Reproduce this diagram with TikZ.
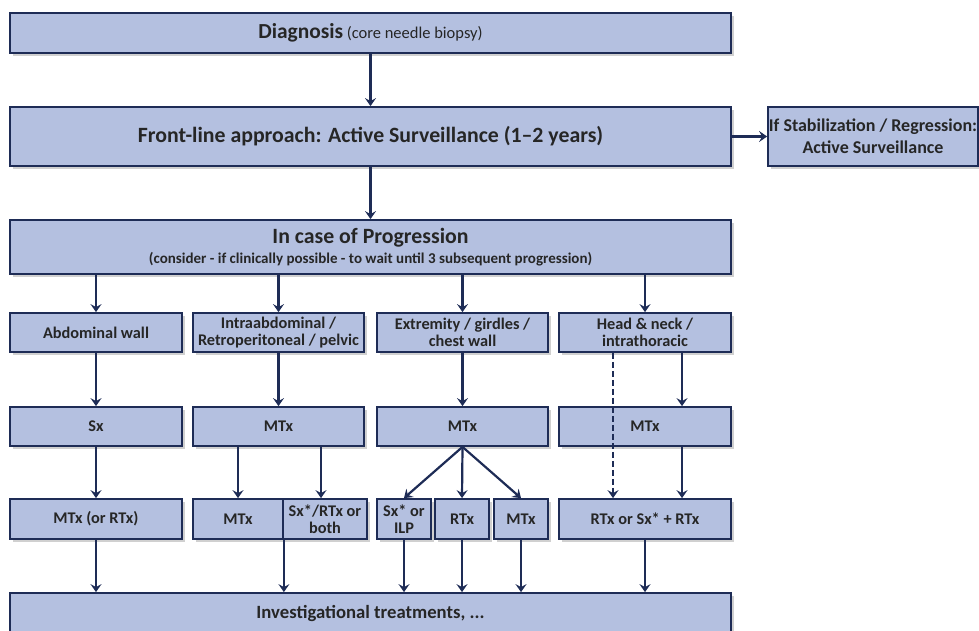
\documentclass[tikz,border=0pt]{standalone}
\usepackage{fontspec}
\setmainfont{Carlito}
\usepackage{xcolor}
\usepackage{tikz}
\usetikzlibrary{calc,positioning,arrows.meta,shadows}
\definecolor{boxfill}{RGB}{180,192,224}
\definecolor{boxline}{RGB}{30,44,86}

\begin{document}
\begin{tikzpicture}[x=1pt,y=-1pt,
  box/.style={draw=boxline,line width=1.8pt,fill=boxfill,align=center,inner sep=0pt,
    font=\bfseries\fontsize{16.3}{16.5}\selectfont,text=black!85,
    drop shadow={shadow xshift=2.5pt,shadow yshift=-2.5pt,opacity=0.3,fill=black!60}},
  wide/.style={box,minimum width=721pt},
  arr/.style={draw=boxline,line width=2.2pt,-{Stealth[length=8pt,width=11pt,inset=3pt]}}]
\clip (0,0) rectangle (979,630);
\fill[white] (0,0) rectangle (979,630);
\newcommand{\bigtext}{\fontsize{21.8}{23}\selectfont}

\node[wide,minimum height=40pt] (diag) at (370.5,33) {{\fontsize{21.4}{23}\selectfont Diagnosis} {\mdseries\fontsize{16.5}{18}\selectfont (core needle biopsy)}};
\node[wide,minimum height=59pt] (front) at (370.5,136.5) {\bigtext Front-line approach: Active Surveillance (1--2 years)};
\node[box,minimum width=210pt,minimum height=59pt,font=\bfseries\fontsize{18}{22}\selectfont] (stab) at (873,136.5) {If Stabilization / Regression:\\Active Surveillance};
\node[wide,minimum height=54pt] (prog) at (370.5,247) {\bigtext In case of Progression\\[3pt]\fontsize{15}{16}\selectfont(consider - if clinically possible - to wait until 3 subsequent progression)};

\node[box,minimum width=172pt,minimum height=39pt] (abd) at (96,332.5) {Abdominal wall};
\node[box,minimum width=171pt,minimum height=39pt] (intra) at (278.5,332.5) {Intraabdominal /\\Retroperitoneal / pelvic};
\node[box,minimum width=171pt,minimum height=39pt] (extr) at (462.5,332.5) {Extremity / girdles /\\chest wall};
\node[box,minimum width=172pt,minimum height=39pt] (head) at (645,332.5) {Head \& neck /\\intrathoracic};

\node[box,minimum width=172pt,minimum height=39pt] (sx) at (96,426.5) {Sx};
\node[box,minimum width=171pt,minimum height=39pt] (mtxb) at (278.5,426.5) {MTx};
\node[box,minimum width=171pt,minimum height=39pt] (mtxc) at (462.5,426.5) {MTx};
\node[box,minimum width=172pt,minimum height=39pt] (mtxd) at (645,426.5) {MTx};

\node[box,minimum width=172pt,minimum height=40pt] (mtxrtx) at (96,519) {MTx (or RTx)};
\node[box,minimum width=90pt,minimum height=40pt] (mtxe) at (238,519) {MTx};
\node[box,minimum width=84pt,minimum height=40pt] (sxrtx) at (325,519) {Sx*/RTx or\\both};
\node[box,minimum width=54pt,minimum height=40pt] (sxilp) at (404,519) {Sx* or\\ILP};
\node[box,minimum width=54pt,minimum height=40pt] (rtx) at (462,519) {RTx};
\node[box,minimum width=54pt,minimum height=40pt] (mtxf) at (521,519) {MTx};
\node[box,minimum width=172pt,minimum height=40pt] (rtxsx) at (645,519) {RTx or Sx* + RTx};

\node[wide,minimum height=40pt] (inv) at (370.5,613) {\fontsize{18.7}{20}\selectfont Investigational treatments, ...};

\draw[arr] (diag) -- (front);
\draw[arr] (front) -- (stab);
\draw[arr] (front) -- (prog);
\foreach \n in {abd,intra,extr,head}
  \draw[arr] (\n.north |- prog.south) -- (\n.north);
\draw[arr] (abd) -- (sx);
\draw[arr] (sx) -- (mtxrtx);
\draw[arr] (intra) -- (mtxb);
\draw[arr] (mtxe.north |- mtxb.south) -- (mtxe.north);
\draw[arr] ([xshift=-4pt]sxrtx.north |- mtxb.south) -- ([xshift=-4pt]sxrtx.north);
\draw[arr] (extr) -- (mtxc);
\foreach \n in {sxilp,rtx,mtxf}
  \draw[arr] (mtxc.south) -- (\n.north);
\draw[arr] ([xshift=37pt]head.south) -- ([xshift=37pt]mtxd.north);
\draw[arr] ([xshift=37pt]mtxd.south) -- ([xshift=37pt]rtxsx.north);
\draw[arr,dashed,dash pattern=on 6pt off 3pt] ([xshift=-32pt]head.south) -- ([xshift=-32pt]rtxsx.north);
\foreach \n in {mtxrtx,sxilp,rtx,mtxf,rtxsx}
  \draw[arr] (\n.south) -- (\n.south |- inv.north);
\draw[arr] (mtxe.south east) -- (mtxe.south east |- inv.north);
\end{tikzpicture}
\end{document}
